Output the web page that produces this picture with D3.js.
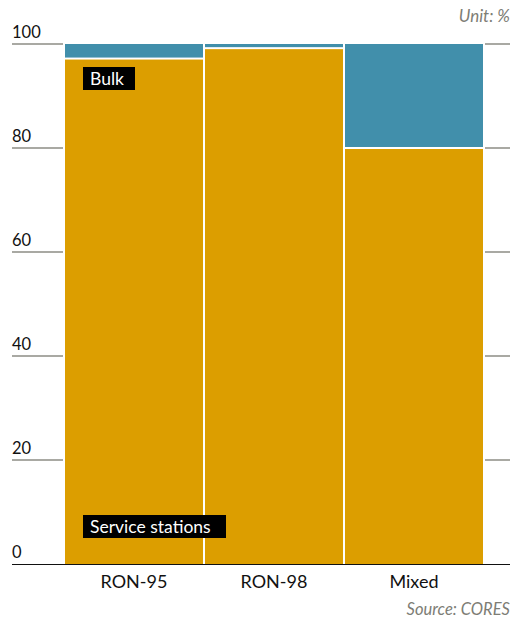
<!DOCTYPE html>
<html><head><meta charset="utf-8">
<script src="https://cdn.jsdelivr.net/npm/d3@7"></script>
<style>
body{margin:0;background:#fff;}
svg{display:block;font-family:Lato,"Open Sans",sans-serif;}
</style></head>
<body><svg id="c" width="510" height="622"></svg>
<script>
const categories = ["RON-95","RON-98","Mixed"];
const serviceStations = [97.2, 99.2, 80];
const bulk = [2.8, 0.8, 20];
const yTicks = [0,20,40,60,80,100];
const seriesNames = ["Service stations","Bulk"];
const colors = {"Service stations":"#dc9e00","Bulk":"#418fab"};

const svg = d3.select("#c");
const x = d3.scaleBand().domain(categories).range([64,484]).padding(0);
const y = d3.scaleLinear().domain([0,100]).range([564,44]);

// gridline ticks (left and right stubs)
const g = svg.append("g");
yTicks.filter(t=>t>0).forEach(t=>{
  g.append("line").attr("x1",12).attr("x2",63).attr("y1",y(t)).attr("y2",y(t))
    .attr("stroke","#8c8c84").attr("stroke-width",1.5);
  g.append("line").attr("x1",485).attr("x2",510).attr("y1",y(t)).attr("y2",y(t))
    .attr("stroke","#8c8c84").attr("stroke-width",1.5);
});
yTicks.forEach(t=>{
  g.append("text").attr("x",12).attr("y",y(t)-6).text(t)
    .attr("font-size",16.5).attr("fill","#111");
});

// stacked data
const rows = categories.map((c,i)=>({cat:c,"Service stations":serviceStations[i],"Bulk":bulk[i]}));
const stack = d3.stack().keys(seriesNames)(rows);
stack.forEach(layer=>{
  svg.append("g").selectAll("rect").data(layer).join("rect")
    .attr("x",d=>x(d.data.cat)+1)
    .attr("width",x.bandwidth()-2)
    .attr("y",d=> d[1]>=100 ? y(d[1]) : y(d[1])+1)
    .attr("height",d=>{
      const top = d[1]>=100 ? y(d[1]) : y(d[1])+1;
      const bot = d[0]<=0 ? y(d[0]) : y(d[0])-1;
      return Math.max(0,bot-top);
    })
    .attr("fill",colors[layer.key]);
});

// baseline
svg.append("line").attr("x1",12).attr("x2",510).attr("y1",y(0)+0.5).attr("y2",y(0)+0.5)
  .attr("stroke","#111").attr("stroke-width",1.2);

// x labels
svg.append("g").selectAll("text").data(categories).join("text")
  .attr("x",d=>x(d)+x.bandwidth()/2).attr("y",588)
  .attr("text-anchor","middle").attr("font-size",18).attr("fill","#111").text(d=>d);

// series labels
function boxLabel(txt, lx, ly, w){
  svg.append("rect").attr("x",lx).attr("y",ly).attr("width",w).attr("height",23).attr("fill","#000");
  svg.append("text").attr("x",lx+7).attr("y",ly+17.5).attr("font-size",17.5).attr("fill","#fff").text(txt);
}
boxLabel("Bulk", x(categories[0])+19, 67, 52);
boxLabel("Service stations", x(categories[0])+19, 515, 143);

svg.append("text").attr("x",510).attr("y",22).attr("text-anchor","end")
  .attr("font-size",17).attr("font-style","italic").attr("fill","#7d7d75").text("Unit: %");
svg.append("text").attr("x",510).attr("y",615).attr("text-anchor","end")
  .attr("font-size",16.5).attr("font-style","italic").attr("fill","#7d7d75").text("Source: CORES");
</script></body></html>
